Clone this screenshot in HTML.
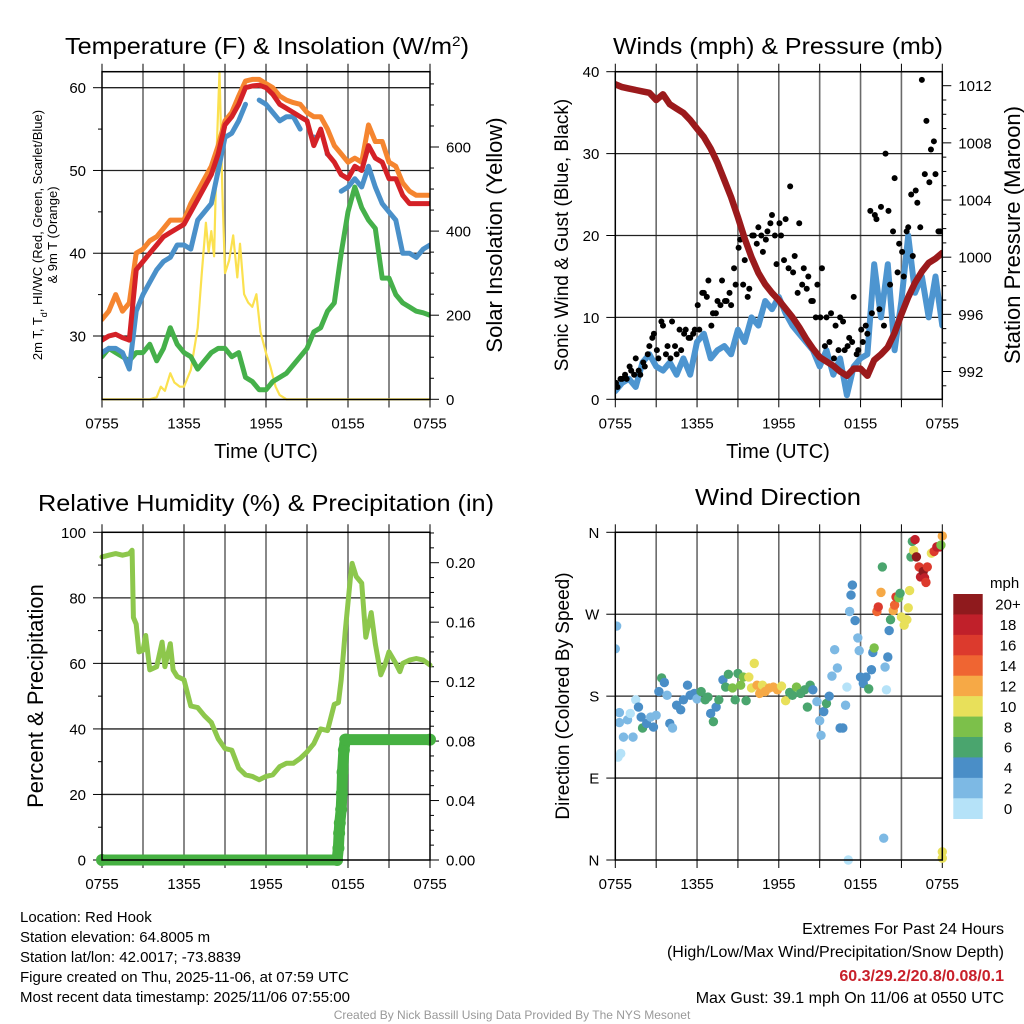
<!DOCTYPE html>
<html><head><meta charset="utf-8"><style>
html,body{margin:0;padding:0;background:#fff;}
svg{display:block;font-family:"Liberation Sans",Arial,sans-serif;}
</style></head><body>
<svg id="fig" width="1024" height="1024" viewBox="0 0 1024 1024" xmlns="http://www.w3.org/2000/svg">
<rect x="0" y="0" width="1024" height="1024" fill="#fff"/>
<text x="267" y="54" font-size="23" text-anchor="middle" textLength="404" lengthAdjust="spacingAndGlyphs">Temperature (F) &amp; Insolation (W/m<tspan baseline-shift="super" font-size="14">2</tspan>)</text>
<text x="778" y="54" font-size="23" text-anchor="middle" textLength="330" lengthAdjust="spacingAndGlyphs">Winds (mph) &amp; Pressure (mb)</text>
<text x="266" y="511" font-size="23" text-anchor="middle" textLength="456" lengthAdjust="spacingAndGlyphs">Relative Humidity (%) &amp; Precipitation (in)</text>
<text x="778" y="505" font-size="23" text-anchor="middle" textLength="166" lengthAdjust="spacingAndGlyphs">Wind Direction</text>
<text x="266" y="458" font-size="20" text-anchor="middle">Time (UTC)</text>
<text x="778" y="458" font-size="20" text-anchor="middle">Time (UTC)</text>
<text transform="translate(42,235) rotate(-90)" font-size="13" text-anchor="middle">2m T, T<tspan baseline-shift="sub" font-size="9">d</tspan>, HI/WC (Red, Green, Scarlet/Blue)</text>
<text transform="translate(57,235) rotate(-90)" font-size="13" text-anchor="middle">&amp; 9m T (Orange)</text>
<text transform="translate(502,235) rotate(-90)" font-size="22" text-anchor="middle">Solar Insolation (Yellow)</text>
<text transform="translate(568,235) rotate(-90)" font-size="19" text-anchor="middle">Sonic Wind &amp; Gust (Blue, Black)</text>
<text transform="translate(1020,235) rotate(-90)" font-size="22" text-anchor="middle">Station Pressure (Maroon)</text>
<text transform="translate(43,696) rotate(-90)" font-size="22" text-anchor="middle">Percent &amp; Precipitation</text>
<text transform="translate(569,696) rotate(-90)" font-size="19" text-anchor="middle">Direction (Colored By Speed)</text>
<g font-size="15">
<text x="20" y="922">Location: Red Hook</text>
<text x="20" y="942">Station elevation: 64.8005 m</text>
<text x="20" y="962">Station lat/lon: 42.0017; -73.8839</text>
<text x="20" y="982">Figure created on Thu, 2025-11-06, at 07:59 UTC</text>
<text x="20" y="1002">Most recent data timestamp: 2025/11/06 07:55:00</text>
</g>
<g font-size="16" text-anchor="end">
<text x="1004" y="934">Extremes For Past 24 Hours</text>
<text x="1004" y="957">(High/Low/Max Wind/Precipitation/Snow Depth)</text>
<text x="1004" y="981" fill="#c8202a" font-weight="bold">60.3/29.2/20.8/0.08/0.1</text>
<text x="1004" y="1003">Max Gust: 39.1 mph On 11/06 at 0550 UTC</text>
</g>
<text x="512" y="1019" font-size="12" fill="#999" text-anchor="middle">Created By Nick Bassill Using Data Provided By The NYS Mesonet</text>
</svg>
<script>
// ---------- DATA ----------
const timeTickHours = [0, 6, 12, 18, 24];
const timeTickLabels = ["0755", "1355", "1955", "0155", "0755"];
const halfHourTimes = [0,0.5,1,1.5,2,2.5,3,3.5,4,4.5,5,5.5,6,6.5,7,7.5,8,8.5,9,9.5,10,10.5,11,11.5,12,12.5,13,13.5,14,14.5,15,15.5,16,16.5,17,17.5,18,18.5,19,19.5,20,20.5,21,21.5,22,22.5,23,23.5,24];
const tempRed = [29.5,30,30.2,29.8,29.5,38,39,40,41,42,42.5,43,43.5,45,46.5,48,49.5,52,55.5,56.5,58,60,60.2,60.3,60,59.2,58,57.5,57,56.5,56,53,55,52,51,49.5,49,50.5,50,53,51.5,51,49,49,47,46,46,46,46];
const tempOrange = [32,33,35,33,34,40,40.5,41.5,42,43,44,44,44,46,47.5,49,50.5,53,56,57,59,60.8,61,61,60.5,60,59,58.5,58.2,58,57,56.5,56.5,55,53,52,51,51.5,51,55.5,53.5,53.5,51,50.5,48.5,47.5,47,47,47];
const tempBlue = [28,28.5,28.5,28,26,33,35,36.5,38,39,39.5,41,41,40.5,44,45,46,50,54,54.5,56,58,null,58.5,58,57,56,56.5,56.5,55,null,54,null,52,null,47.5,48,49,48,50.5,48,46,45,44,40,40,39.5,40.5,41];
const dewGreen = [27.5,28.5,28,27.5,27,28,28,29,27,28.5,31,29,28,27.5,26,27,28,28.5,28.5,27.5,28,25,24.5,23.5,23.5,24.5,25,25.5,26.5,27.5,28.5,30.5,31,33,34,40,45,48,45.5,44,43,37,37,35,34,33.5,33,32.8,32.5];
const solarTimes = [0,3.5,4,4.3,4.6,5,5.3,5.7,6,6.5,7,7.3,7.6,7.8,8,8.2,8.4,8.6,8.8,9,9.3,9.6,9.9,10.1,10.4,10.7,11,11.3,11.6,12,12.3,12.7,13,13.5,24];
const solarValues = [0,0,5,30,20,62,40,30,30,70,170,300,420,350,400,340,600,780,500,300,330,390,290,370,250,230,220,250,160,110,80,30,10,0,0];
const pressure = [1012.1,1011.9,1011.8,1011.7,1011.6,1011.5,1011.0,1011.4,1010.7,1010.4,1010.1,1009.6,1009.0,1008.4,1007.6,1006.6,1005.4,1004.2,1002.8,1001.3,1000.0,998.9,998.1,997.5,997.0,996.4,995.8,995.1,994.3,993.6,993.0,992.7,992.4,992.0,991.7,992.2,992.2,991.7,992.8,993.2,993.7,994.7,996.0,997.2,998.2,999.0,999.6,999.9,1000.3];
const windSpeed = [1,2,2.5,1.5,4.5,5.5,4,3.5,4.5,3,5,3,7,8,5,6,6.5,5.5,8.5,7,10,9,12,11,12.5,10.5,9,8,7,6,4,6,3,5,0.5,4,5,5.5,16.5,10,16.5,6,12,20,13,15,10,15,9];
const gustValues = [1.5,2.5,2.5,3.5,5,3,4,6.5,8,5,9,6.5,9.5,5.5,6,8.5,7.5,8.5,8.5,13,14.5,10.5,12,14.5,12,11.5,14,19.5,17,13.5,20,21,18,20.5,22.5,16.5,20,22,26,17.5,21.5,16,15,12,14,16,10,10.5,9,10,6,7.5,12.5,6,7,8,10.5,22,23.5,30,14,27,19,15,21,17.5,24,39,34,30.5,27.5,20.5];
const gustValues2 = [2,2.5,3,4,3,3.5,4.5,5.5,7.5,6,9.5,5.5,5,6.5,8.5,8,7.5,8,11.5,13,12.5,9,10.5,11.5,12,13,16,18.5,14,12.5,20,19,20,19.5,21.5,20,21.5,17,16,15.5,13,14,13.5,12,10,10,6.5,7,5,6,9.5,6.5,7,5.5,8.5,9,23,22.5,11,9,23,20.5,15.5,18,20.5,25,25.5,21,27.5,26.5,31.5,20.5];
const rhTimes = [0,0.5,1,1.5,2,2.2,2.3,2.5,2.7,3,3.2,3.5,4,4.4,4.6,5,5.2,5.5,6,6.5,7,7.5,8,8.5,9,9.5,10,10.5,11,11.5,12,12.5,13,13.5,14,14.5,15,15.5,16,16.5,17,17.3,17.5,17.8,18.2,18.3,18.6,19,19.3,19.7,20,20.4,20.7,21,21.5,21.8,22,22.5,23,23.5,24];
const rhValues = [92.5,93,93.5,93,93.5,94.5,74,72,63.5,64,68.5,58,59,66.5,59,66,58,56,55,47,46.5,44,42,37,34,33.5,28,26,25.5,24.5,25.5,26,28.5,29.5,29.5,31,33,35.5,40,39.5,47.5,48,55,70,87,90.5,86.5,84.5,68,75.5,66,56.5,59.5,63.5,60,57.5,60,61,61.5,61,59.5];
const precipTimes = [0,17.2,17.3,17.35,17.4,17.5,17.55,17.6,17.7,17.8,17.9,24];
const precipValues = [0,0,0.008,0.018,0.025,0.034,0.045,0.059,0.074,0.081,0.081,0.081];
const dirTimes = [0,0.1,0.2,0.4,0.3,0.3,0.6,0.9,1.1,1.3,1.5,1.7,1.9,2.0,2.3,2.6,2.8,3.0,3.2,3.4,3.6,3.8,4.0,4.2,4.5,4.8,5.0,5.3,5.5,5.8,6.0,6.3,6.6,6.8,7.0,7.2,7.4,7.6,7.9,8.1,8.3,8.6,8.8,9.0,9.2,9.4,9.6,9.8,10.0,10.2,10.4,10.6,10.8,11.0,11.3,11.6,11.9,12.2,12.5,12.8,13.0,13.3,13.6,13.9,14.1,14.3,14.5,14.8,15.0,15.1,15.3,15.5,15.7,15.9,16.1,16.3,16.5,16.7,16.9,17.0,17.1,17.2,17.3,17.4,17.6,17.8,17.9,18.0,18.2,18.4,18.6,18.8,18.9,19.0,19.2,19.3,19.5,19.6,19.7,19.8,19.9,20.0,20.1,20.2,20.4,20.5,20.6,20.8,20.9,21.0,21.2,21.4,21.5,21.6,21.7,21.8,21.9,22.0,22.1,22.3,22.4,22.6,22.7,22.8,22.9,23.2,23.4,23.6,23.8,23.9,24.0,24.0,24.0];
const dirDegrees = [232,257,113,117,162,151,135,154,161,135,176,168,157,145,150,157,146,159,185,200,195,181,150,145,170,165,176,192,181,183,177,185,176,179,161,152,168,176,198,190,204,189,176,205,192,201,175,201,189,216,192,183,192,185,189,190,187,191,175,184,181,190,183,187,168,192,187,174,153,137,163,172,180,202,231,211,145,145,170,190,0,273,291,302,263,244,230,201,194,201,188,209,228,233,273,278,294,322,24,212,187,223,252,264,274,280,289,288,293,267,258,264,277,296,333,350,340,352,333,322,311,317,310,305,322,337,339,344,344,346,356,9,2];
const dirSpeeds = [2,2,1,1,3,2,2,2,1,2,1,4,4,6,4,3,4,3,4,6,4,3,4,3,4,4,4,4,4,4,3,6,7,6,4,6,4,7,4,7,6,8,6,7,8,8,6,10,10,10,12,12,10,12,12,12,12,10,10,6,6,8,7,6,6,6,4,3,2,2,4,6,4,2,2,2,4,4,2,0,0,2,4,4,4,2,3,4,4,4,6,4,4,8,14,16,12,6,2,2,1,4,4,6,12,14,16,8,7,10,10,10,10,10,6,6,10,18,20,16,18,20,18,16,16,10,16,18,18,8,12,10,10];
const speedBins = ["0","2","4","6","8","10","12","14","16","18","20+"];
const speedColors = ["#b5e2f8","#7db9e4","#4a8ec7","#4aa56e","#7cc04a","#e8e05a","#f6a946","#ef6532","#dc3a2d","#c0202a","#8f1a1d"];

// ---------- HELPERS ----------
const NS = "http://www.w3.org/2000/svg";
const svg = document.getElementById("fig");
function mk(tag, attrs, parent) {
  const el = document.createElementNS(NS, tag);
  for (const k in attrs) el.setAttribute(k, attrs[k]);
  (parent || svg).appendChild(el);
  return el;
}
function scale(d0, d1, r0, r1) { return v => r0 + (v - d0) * (r1 - r0) / (d1 - d0); }

const P1 = {x0:102, x1:430, y0:71.7, y1:399.5};
const P2 = {x0:615.3, x1:942.3, y0:71.7, y1:399.3};
const P3 = {x0:102, x1:430, y0:532.3, y1:860};
const P4 = {x0:615.3, x1:942.3, y0:532.3, y1:860};
const x1s = scale(0, 24, P1.x0, P1.x1);
const x2s = scale(0, 24, P2.x0, P2.x1);
const yTemp = scale(60, 30, 87.7, 336);
const ySolar = scale(0, 600, 399.3, 147);
const yWind = scale(0, 40, 399.3, 71.7);
const yPres = scale(1012, 992, 85.7, 371.5);
const yRH = scale(0, 100, 860, 532.3);
const yPrecip = scale(0, 0.2, 860, 562.7);
const yDir = scale(0, 360, 860, 532.3);

function frame(P, parent) {
  const r = mk("rect", {x:P.x0, y:P.y0, width:P.x1-P.x0, height:P.y1-P.y0, fill:"none", stroke:"#000", "stroke-width":1.5}, parent);
  
  
}
function vgrid(P, xs, parent) {
  for (let h = 3; h < 24; h += 3) {
    const l = mk("line", {x1:xs(h), x2:xs(h), y1:P.y0, y2:P.y1, stroke:"#6a6a6a", "stroke-width":1.6}, parent);
    
    
  }
  for (let h = 0; h <= 24; h += 3) {
    const t1 = mk("line", {x1:xs(h), x2:xs(h), y1:P.y0-8, y2:P.y0, stroke:"#000", "stroke-width":1}, parent);
    
    
    const t2 = mk("line", {x1:xs(h), x2:xs(h), y1:P.y1, y2:P.y1+8, stroke:"#000", "stroke-width":1}, parent);
    
    
  }
  timeTickHours.forEach((h, i) => {
    const t = mk("text", {x:xs(h), y:P.y1+29, "font-size":15, "text-anchor":"middle"}, parent);
    t.textContent = timeTickLabels[i];
    
    
  });
}
function hgrid(P, ys, vals, color, parent) {
  vals.forEach(v => {
    const l = mk("line", {x1:P.x0, x2:P.x1, y1:ys(v), y2:ys(v), stroke:color, "stroke-width":1.3}, parent);
    
    
  });
}
function yTicks(P, ys, majors, labels, minors, side, parent) {
  const xe = side === "left" ? P.x0 : P.x1;
  const dir = side === "left" ? -1 : 1;
  majors.forEach((v, i) => {
    const l = mk("line", {x1:xe, x2:xe+dir*9, y1:ys(v), y2:ys(v), stroke:"#000", "stroke-width":1}, parent);
    
    
    const t = mk("text", {x:xe+dir*16, y:ys(v)+5.5, "font-size":15, "text-anchor": side === "left" ? "end" : "start"}, parent);
    t.textContent = labels[i];
    
    
  });
  minors.forEach(v => {
    const l = mk("line", {x1:xe, x2:xe+dir*4, y1:ys(v), y2:ys(v), stroke:"#000", "stroke-width":1}, parent);
    
    
  });
}
function pathFrom(ts, vs, xs, ys) {
  let d = "", pen = false;
  for (let i = 0; i < ts.length; i++) {
    if (vs[i] === null) { pen = false; continue; }
    d += (pen ? "L" : "M") + xs(ts[i]).toFixed(1) + "," + ys(vs[i]).toFixed(1);
    pen = true;
  }
  return d;
}
function clip(id, P) {
  const cp = mk("clipPath", {id:id});
  mk("rect", {x:P.x0, y:P.y0-1, width:P.x1-P.x0, height:P.y1-P.y0+2}, cp);
}

// ---------- PANEL 1 ----------
clip("c1", P1);
const g1 = mk("g", {});


vgrid(P1, x1s, g1);
hgrid(P1, yTemp, [30, 40, 50, 60], "#222", g1);
yTicks(P1, yTemp, [30,40,50,60], ["30","40","50","60"], [25,35,45,55], "left", g1);
yTicks(P1, ySolar, [0,200,400,600], ["0","200","400","600"], [50,100,150,250,300,350,450,500,550,650,700,750], "right", g1);
const d1 = mk("g", {"clip-path":"url(#c1)", fill:"none", "stroke-linejoin":"round", "stroke-linecap":"round"}, g1);


const sSolar = mk("path", {d:pathFrom(solarTimes, solarValues, x1s, ySolar), stroke:"#fbe14f", "stroke-width":2.2}, d1);


const sGreen = mk("path", {d:pathFrom(halfHourTimes, dewGreen, x1s, yTemp), stroke:"#45b04a", "stroke-width":5}, d1);


const sOrange = mk("path", {d:pathFrom(halfHourTimes, tempOrange, x1s, yTemp), stroke:"#f5852f", "stroke-width":5}, d1);


const sBlue = mk("path", {d:pathFrom(halfHourTimes, tempBlue, x1s, yTemp), stroke:"#4a90c9", "stroke-width":5}, d1);


tempBlue.forEach((v, i) => {
  if (v === null) return;
  const prevNull = i === 0 || tempBlue[i-1] === null;
  const nextNull = i === tempBlue.length-1 || tempBlue[i+1] === null;
  if (prevNull && nextNull) {
    const c = mk("circle", {cx:x1s(halfHourTimes[i]), cy:yTemp(v), r:2.8, fill:"#4a90c9"}, d1);
    
    
  }
});
const sRed = mk("path", {d:pathFrom(halfHourTimes, tempRed, x1s, yTemp), stroke:"#d42127", "stroke-width":5}, d1);


frame(P1, g1);

// ---------- PANEL 2 ----------
clip("c2", P2);
const g2 = mk("g", {});


vgrid(P2, x2s, g2);
hgrid(P2, yWind, [10, 20, 30, 40], "#222", g2);
yTicks(P2, yWind, [0,10,20,30,40], ["0","10","20","30","40"], [], "left", g2);
yTicks(P2, yPres, [992,996,1000,1004,1008,1012], ["992","996","1000","1004","1008","1012"], [991,993,994,995,997,998,999,1001,1002,1003,1005,1006,1007,1009,1010,1011], "right", g2);
const d2 = mk("g", {"clip-path":"url(#c2)", fill:"none", "stroke-linejoin":"round", "stroke-linecap":"round"}, g2);


const sWind = mk("path", {d:pathFrom(halfHourTimes, windSpeed, x2s, yWind), stroke:"#4d95d0", "stroke-width":6}, d2);


gustValues.forEach((v, i) => {
  const c = mk("circle", {cx:x2s((i + 0.5) / 3), cy:yWind(v), r:3, fill:"#000"}, d2);
  
  
});
gustValues2.forEach((v, i) => {
  const c = mk("circle", {cx:x2s((i + 0.15) / 3), cy:yWind(v), r:3, fill:"#000"}, d2);
  
  
});
const sPres = mk("path", {d:pathFrom(halfHourTimes, pressure, x2s, yPres), stroke:"#9b1a1c", "stroke-width":6.5}, d2);


frame(P2, g2);

// ---------- PANEL 3 ----------
clip("c3", {x0:P3.x0-8, x1:P3.x1+8, y0:P3.y0, y1:P3.y1+8});
const g3 = mk("g", {});


vgrid(P3, x1s, g3);
hgrid(P3, yRH, [20, 40, 60, 80], "#222", g3);
yTicks(P3, yRH, [0,20,40,60,80,100], ["0","20","40","60","80","100"], [10,30,50,70,90], "left", g3);
const prMin = [];
for (let k = 1; k <= 22; k++) if (k % 4 !== 0) prMin.push(k / 100);
yTicks(P3, yPrecip, [0,0.04,0.08,0.12,0.16,0.2], ["0.00","0.04","0.08","0.12","0.16","0.20"], prMin, "right", g3);
const d3 = mk("g", {"clip-path":"url(#c3)", fill:"none", "stroke-linejoin":"round", "stroke-linecap":"round"}, g3);


const sRH = mk("path", {d:pathFrom(rhTimes, rhValues, x1s, yRH), stroke:"#8dc74c", "stroke-width":5}, d3);


const sPr = mk("path", {d:pathFrom(precipTimes, precipValues, x1s, yPrecip), stroke:"#46b142", "stroke-width":11}, d3);


precipTimes.forEach((t, i) => {
  const c = mk("circle", {cx:x1s(t), cy:yPrecip(precipValues[i]), r:6, fill:"#46b142"}, d3);
  
  
});
frame(P3, g3);

// ---------- PANEL 4 ----------
clip("c4", {x0:P4.x0, x1:P4.x1+6, y0:P4.y0-6, y1:P4.y1+6});
const g4 = mk("g", {});


vgrid(P4, x2s, g4);
hgrid(P4, yDir, [90, 180, 270], "#222", g4);
yTicks(P4, yDir, [0,90,180,270,360], ["N","E","S","W","N"], [], "left", g4);
const d4 = mk("g", {"clip-path":"url(#c4)"}, g4);


dirTimes.forEach((t, i) => {
  const bin = Math.max(0, Math.min(10, Math.floor(dirSpeeds[i] / 2)));
  const c = mk("circle", {cx:x2s(t), cy:yDir(dirDegrees[i]), r:4.7, fill:speedColors[bin]}, d4);
  
  
});
frame(P4, g4);

// ---------- COLORBAR ----------
const cb = mk("g", {});


const cbTitle = mk("text", {x:990, y:588, "font-size":15}, cb);
cbTitle.textContent = "mph";


const cbTop = 594, cbH = (818.7 - 594) / speedBins.length;
speedBins.forEach((lab, i) => {
  const k = speedBins.length - 1 - i;
  const r = mk("rect", {x:953.3, y:cbTop + i*cbH, width:29.4, height:cbH+0.3, fill:speedColors[k]}, cb);
  
  
  const t = mk("text", {x:1008, y:cbTop + i*cbH + cbH/2 + 5.5, "font-size":15, "text-anchor":"middle"}, cb);
  t.textContent = speedBins[k];
  
  
});
</script>
</body></html>
